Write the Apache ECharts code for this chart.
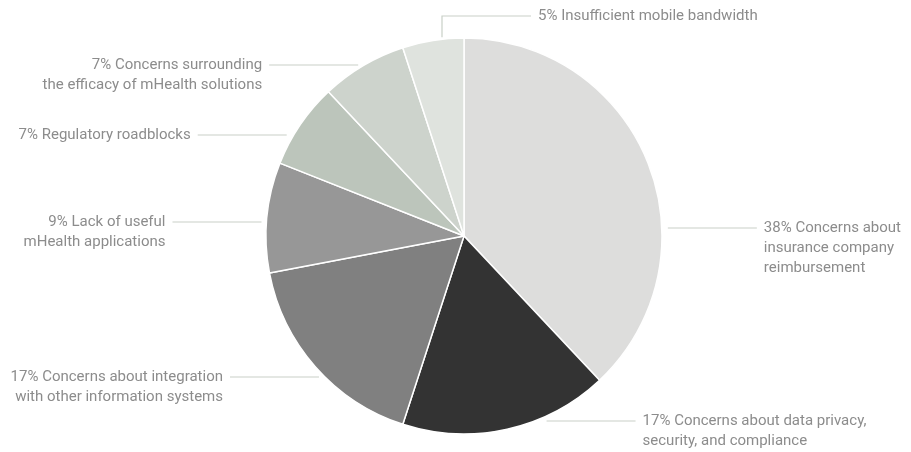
<!DOCTYPE html>
<html>
<head>
<meta charset="utf-8">
<script src="https://cdn.jsdelivr.net/npm/echarts@6/dist/echarts.min.js"></script>
<style>
  html, body { margin: 0; padding: 0; background: #ffffff; }
  #chart { width: 911px; height: 452px; }
</style>
</head>
<body>
<div id="chart"></div>
<script>
// Barriers to mHealth adoption (share of respondents, %)
const categories = [
  'Concerns about\ninsurance company\nreimbursement',
  'Concerns about data privacy,\nsecurity, and compliance',
  'Concerns about integration\nwith other information systems',
  'Lack of useful\nmHealth applications',
  'Regulatory roadblocks',
  'Concerns surrounding\nthe efficacy of mHealth solutions',
  'Insufficient mobile bandwidth'
];
const values = [38, 17, 17, 9, 7, 7, 5];
const sliceColors = ['#dddddc', '#333333', '#808080', '#979797', '#bcc5bb', '#cdd3cc', '#dfe3de'];

// Label placement: side of the pie, height of each leader line, gap from the pie edge
const labelPlacement = [
  { side: 'right', y: 228, gap: 6 },
  { side: 'right', y: 421, gap: 12 },
  { side: 'left',  y: 377, gap: 6 },
  { side: 'left',  y: 222, gap: 5 },
  { side: 'left',  y: 135, gap: 7 },
  { side: 'left',  y: 65,  gap: 6 },
  { side: 'top',   y: 16,  x: 442 }
];

const CX = 464, CY = 236, R = 198;
const LINE_LEN = 89, GAP_TEXT = 7, LINE_H = 20;

const chart = echarts.init(document.getElementById('chart'), null, { renderer: 'canvas' });

function edgeX(y, side) {
  const dy = y - CY;
  const dx = Math.sqrt(Math.max(R * R - dy * dy, 0));
  return side === 'right' ? CX + dx : CX - dx;
}
function edgeY(x) {
  const dx = x - CX;
  return CY - Math.sqrt(Math.max(R * R - dx * dx, 0));
}

chart.setOption({
  backgroundColor: '#ffffff',
  animation: false,
  series: [{
    type: 'pie',
    center: [CX, CY],
    radius: [0, R],
    startAngle: 90,
    clockwise: true,
    avoidLabelOverlap: false,
    data: categories.map((name, i) => ({
      name: name,
      value: values[i],
      itemStyle: { color: sliceColors[i] }
    })),
    itemStyle: { borderColor: '#ffffff', borderWidth: 1.5 },
    label: {
      show: true,
      position: 'outside',
      formatter: p => p.value + '% ' + p.name,
      fontFamily: 'Roboto',
      fontSize: 15,
      lineHeight: LINE_H,
      color: '#8c8c8c'
    },
    labelLine: {
      show: true,
      length: 10,
      length2: 10,
      lineStyle: { color: '#c9d0c7', width: 1.2 }
    },
    emphasis: { disabled: true },
    labelLayout: function (params) {
      const pl = labelPlacement[params.dataIndex];
      if (pl.side === 'top') {
        const y0 = edgeY(pl.x) - 2;
        const xEnd = pl.x + LINE_LEN;
        return {
          x: xEnd + GAP_TEXT,
          y: pl.y - LINE_H / 2,
          align: 'left',
          verticalAlign: 'top',
          labelLinePoints: [[pl.x, y0], [pl.x, pl.y], [xEnd, pl.y]]
        };
      }
      if (pl.side === 'right') {
        const x0 = edgeX(pl.y, 'right') + pl.gap;
        const x1 = x0 + LINE_LEN;
        return {
          x: x1 + GAP_TEXT,
          y: pl.y - LINE_H / 2,
          align: 'left',
          verticalAlign: 'top',
          labelLinePoints: [[x0, pl.y], [(x0 + x1) / 2, pl.y], [x1, pl.y]]
        };
      }
      const x0 = edgeX(pl.y, 'left') - pl.gap;
      const x1 = x0 - LINE_LEN;
      return {
        x: x1 - GAP_TEXT,
        y: pl.y - LINE_H / 2,
        align: 'right',
        verticalAlign: 'top',
        labelLinePoints: [[x0, pl.y], [(x0 + x1) / 2, pl.y], [x1, pl.y]]
      };
    }
  }]
});
</script>
</body>
</html>
